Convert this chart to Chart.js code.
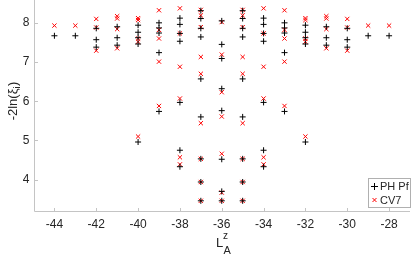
<!DOCTYPE html>
<html>
<head>
<meta charset="utf-8">
<script src="https://cdn.jsdelivr.net/npm/chart.js@4.4.1/dist/chart.umd.min.js"></script>
<style>
html,body{margin:0;padding:0;background:#fff;}
#wrap{width:415px;height:255px;}
</style>
</head>
<body>
<div id="wrap"><canvas id="c" width="415" height="255"></canvas></div>
<script>
// Tick labels
const xTicks = [-44, -42, -40, -38, -36, -34, -32, -30, -28];
const yTicks = [4, 5, 6, 7, 8];

// Series names
const seriesNames = ['PH Pf', 'CV7'];

// PH Pf (+)
const phPfX = [
  -44,
  -43,
  -42, -42, -42,
  -41, -41, -41,
  -40, -40, -40, -40, -40,
  -39, -39, -39, -39, -39,
  -38, -38, -38, -38, -38, -38, -38,
  -37, -37, -37, -37, -37, -37, -37, -37, -37,
  -36, -36, -36, -36, -36, -36, -36, -36,
  -35, -35, -35, -35, -35, -35, -35, -35, -35,
  -34, -34, -34, -34, -34, -34, -34,
  -33, -33, -33, -33, -33,
  -32, -32, -32, -32, -32,
  -31, -31, -31,
  -30, -30, -30,
  -29,
  -28
];
const phPfY = [
  7.67,
  7.67,
  7.86, 7.57, 7.38,
  7.90, 7.62, 7.43,
  7.94, 7.76, 7.62, 7.46, 4.96,
  8.00, 7.87, 7.74, 7.24, 5.74,
  8.12, 7.96, 7.73, 7.53, 5.97, 4.75, 4.33,
  8.31, 8.11, 7.86, 7.64, 6.57, 5.60, 4.53, 3.94, 3.46,
  8.05, 7.45, 7.09, 6.32, 5.76, 4.52, 3.70, 3.46,
  8.31, 8.11, 7.86, 7.64, 6.57, 5.60, 4.53, 3.94, 3.46,
  8.12, 7.96, 7.73, 7.53, 5.97, 4.75, 4.33,
  8.00, 7.87, 7.74, 7.24, 5.74,
  7.94, 7.76, 7.62, 7.46, 4.96,
  7.90, 7.62, 7.43,
  7.86, 7.57, 7.38,
  7.67,
  7.67
];

// CV7 (x)
const cv7X = [
  -44,
  -43,
  -42, -42, -42,
  -41, -41, -41, -41,
  -40, -40, -40, -40, -40,
  -39, -39, -39, -39, -39,
  -38, -38, -38, -38, -38, -38,
  -37, -37, -37, -37, -37, -37, -37, -37, -37,
  -36, -36, -36, -36, -36, -36, -36,
  -35, -35, -35, -35, -35, -35, -35, -35, -35,
  -34, -34, -34, -34, -34, -34,
  -33, -33, -33, -33, -33,
  -32, -32, -32, -32, -32,
  -31, -31, -31, -31,
  -30, -30, -30,
  -29,
  -28
];
const cv7Y = [
  7.93,
  7.93,
  8.10, 7.88, 7.29,
  8.17, 8.11, 7.84, 7.35,
  8.12, 8.07, 7.60, 7.52, 5.10,
  8.32, 7.82, 7.60, 7.01, 5.88,
  8.37, 7.73, 6.88, 6.07, 4.57, 4.39,
  8.33, 8.19, 7.89, 7.13, 6.70, 5.44, 4.53, 3.94, 3.46,
  8.02, 7.19, 6.23, 5.61, 4.66, 3.67, 3.46,
  8.33, 8.19, 7.89, 7.13, 6.70, 5.44, 4.53, 3.94, 3.46,
  8.37, 7.73, 6.88, 6.07, 4.57, 4.39,
  8.32, 7.82, 7.60, 7.01, 5.88,
  8.12, 8.07, 7.60, 7.52, 5.10,
  8.17, 8.11, 7.84, 7.35,
  8.10, 7.88, 7.29,
  7.93,
  7.93
];

const FONT = '"Liberation Sans", Arial, Helvetica, sans-serif';
const AXIS_COLOR = '#c4c4c4';
const TEXT_COLOR = '#262626';

const toPts = (xs, ys) => xs.map((x, i) => ({x: x, y: ys[i]}));

const axesPlugin = {
  id: 'matlabAxes',
  beforeDatasetsDraw(chart) {
    const ctx = chart.ctx;
    const a = chart.chartArea;
    const xs = chart.scales.x, ys = chart.scales.y;
    ctx.save();
    ctx.strokeStyle = AXIS_COLOR;
    ctx.lineWidth = 1;
    ctx.beginPath();
    const L = Math.round(a.left) + 0.5;
    const B = Math.round(a.bottom) + 0.5;
    ctx.moveTo(L, 0);
    ctx.lineTo(L, B);
    ctx.lineTo(a.right, B);
    xTicks.forEach(v => {
      const px = Math.round(xs.getPixelForValue(v)) + 0.5;
      ctx.moveTo(px, B);
      ctx.lineTo(px, B - 3.5);
    });
    yTicks.forEach(v => {
      const py = Math.round(ys.getPixelForValue(v)) + 0.5;
      ctx.moveTo(L, py);
      ctx.lineTo(L + 3.5, py);
    });
    ctx.stroke();
    ctx.restore();
  },
  afterDraw(chart) {
    const ctx = chart.ctx;
    ctx.save();
    ctx.fillStyle = TEXT_COLOR;
    // X axis title: L with superscript z and subscript A
    ctx.textBaseline = 'alphabetic';
    ctx.textAlign = 'left';
    ctx.font = '13px ' + FONT;
    ctx.fillText('L', 216, 247);
    ctx.font = '10px ' + FONT;
    ctx.fillText('z', 223, 239);
    ctx.font = '11px ' + FONT;
    ctx.fillText('A', 223.5, 253.5);

    // Y axis title: -2ln(ξ_i)
    ctx.translate(17, 101);
    ctx.rotate(-Math.PI / 2);
    const p1 = '-2ln(ξ';
    const p3 = ')';
    ctx.font = '13px ' + FONT;
    const w1 = ctx.measureText(p1).width;
    ctx.font = '9px ' + FONT;
    const w2 = ctx.measureText('i').width;
    ctx.font = '13px ' + FONT;
    const w3 = ctx.measureText(p3).width;
    const total = w1 + w2 + w3 + 0.5;
    let x0 = -total / 2;
    ctx.fillText(p1, x0, 0);
    ctx.font = '9px ' + FONT;
    ctx.fillText('i', x0 + w1, 3);
    ctx.font = '13px ' + FONT;
    ctx.fillText(p3, x0 + w1 + w2 + 0.5, 0);
    ctx.restore();

    // Legend
    ctx.save();
    const lx = 368.5, ly = 178.5, lw = 42, lh = 29;
    ctx.fillStyle = '#ffffff';
    ctx.fillRect(lx, ly, lw, lh);
    ctx.strokeStyle = '#b0b0b0';
    ctx.lineWidth = 1;
    ctx.strokeRect(lx, ly, lw, lh);
    ctx.strokeStyle = '#000000';
    ctx.beginPath();
    ctx.moveTo(371, 186.5); ctx.lineTo(378, 186.5);
    ctx.moveTo(374.5, 183); ctx.lineTo(374.5, 190);
    ctx.stroke();
    ctx.strokeStyle = '#ff0000';
    ctx.beginPath();
    ctx.moveTo(372.5, 198); ctx.lineTo(376.5, 202);
    ctx.moveTo(376.5, 198); ctx.lineTo(372.5, 202);
    ctx.stroke();
    ctx.fillStyle = TEXT_COLOR;
    ctx.font = '11px ' + FONT;
    ctx.textBaseline = 'middle';
    ctx.fillText(seriesNames[0], 380, 187);
    ctx.fillText(seriesNames[1], 380, 200.5);
    ctx.restore();
  }
};

new Chart(document.getElementById('c'), {
  type: 'scatter',
  data: {
    datasets: [
      {
        label: seriesNames[0],
        data: toPts(phPfX, phPfY),
        pointStyle: 'cross',
        radius: 3,
        borderColor: '#000000',
        backgroundColor: '#000000',
        borderWidth: 1,
        clip: false
      },
      {
        label: seriesNames[1],
        data: toPts(cv7X, cv7Y),
        pointStyle: 'crossRot',
        radius: 3,
        borderColor: '#ff0000',
        backgroundColor: '#ff0000',
        borderWidth: 1,
        clip: false
      }
    ]
  },
  options: {
    responsive: false,
    animation: false,
    devicePixelRatio: 1,
    layout: {padding: {left: 0, right: 0, top: 0, bottom: 0}},
    events: [],
    plugins: {
      legend: {display: false},
      tooltip: {enabled: false}
    },
    scales: {
      x: {
        type: 'linear',
        min: -45,
        max: -27,
        afterBuildTicks: s => { s.ticks = xTicks.map(v => ({value: v})); },
        afterFit: s => { s.height = 44; s.paddingLeft = 0; s.paddingRight = 0; },
        grid: {display: false, drawTicks: false},
        border: {display: false},
        ticks: {
          color: TEXT_COLOR,
          font: {family: FONT, size: 12},
          padding: 6,
          maxRotation: 0,
          autoSkip: false
        }
      },
      y: {
        type: 'linear',
        min: 3.2,
        max: 8.455,
        afterBuildTicks: s => { s.ticks = yTicks.map(v => ({value: v})); },
        afterFit: s => { s.width = 33.5; s.paddingTop = 0; s.paddingBottom = 0; },
        grid: {display: false, drawTicks: false},
        border: {display: false},
        ticks: {
          color: TEXT_COLOR,
          font: {family: FONT, size: 12},
          padding: 4,
          autoSkip: false
        }
      }
    }
  },
  plugins: [axesPlugin]
});
</script>
</body>
</html>
